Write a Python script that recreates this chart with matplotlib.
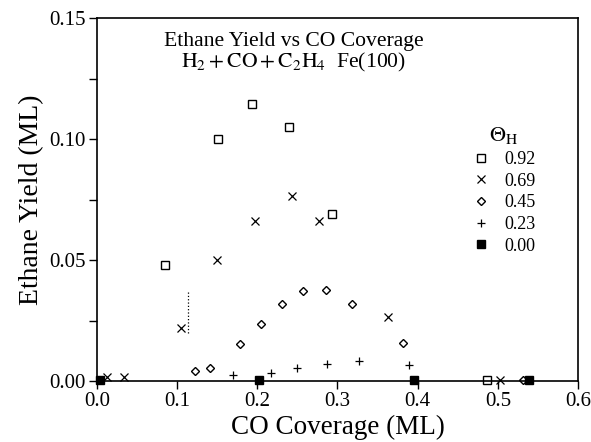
import matplotlib
matplotlib.use("Agg")
import matplotlib.pyplot as plt
from matplotlib.ticker import MultipleLocator

plt.rcParams['font.family'] = ['Liberation Serif', 'DejaVu Serif']
plt.rcParams['mathtext.fontset'] = 'stix'

# Series: theta_H = 0.92 (open squares)
x_092 = [0.085, 0.151, 0.193, 0.240, 0.293, 0.486]
y_092 = [0.048, 0.100, 0.1145, 0.105, 0.069, 0.0005]
# theta_H = 0.69 (crosses)
x_069 = [0.012, 0.034, 0.105, 0.150, 0.197, 0.243, 0.277, 0.363, 0.503]
y_069 = [0.0015, 0.0015, 0.022, 0.050, 0.066, 0.0765, 0.066, 0.0265, 0.0005]
# theta_H = 0.45 (open diamonds)
x_045 = [0.122, 0.141, 0.178, 0.205, 0.231, 0.257, 0.286, 0.318, 0.382, 0.531]
y_045 = [0.004, 0.0054, 0.0153, 0.0235, 0.032, 0.037, 0.0376, 0.032, 0.0157, 0.0003]
# theta_H = 0.23 (plus)
x_023 = [0.170, 0.217, 0.249, 0.287, 0.327, 0.389]
y_023 = [0.0025, 0.0033, 0.0054, 0.007, 0.0083, 0.0066]
# theta_H = 0.00 (filled squares)
x_000 = [0.004, 0.202, 0.395, 0.539]
y_000 = [0.0003, 0.0003, 0.0003, 0.0003]
# dotted vertical segment near x = 0.11
seg_x = [0.1135, 0.1135]
seg_y = [0.020, 0.037]

labels = ["0.92", "0.69", "0.45", "0.23", "0.00"]

fig = plt.figure(figsize=(5.91, 4.42), dpi=100)
ax = fig.add_axes([0.164, 0.138, 0.814, 0.821])

ax.plot(x_092, y_092, ls='none', marker='s', ms=5.5, mfc='white', mec='black', mew=1.0, label=labels[0], clip_on=False)
ax.plot(x_069, y_069, ls='none', marker='x', ms=5.5, color='black', mew=0.9, label=labels[1], clip_on=False)
ax.plot(x_045, y_045, ls='none', marker='D', ms=4.5, mfc='white', mec='black', mew=1.0, label=labels[2], clip_on=False)
ax.plot(x_023, y_023, ls='none', marker='+', ms=6, color='black', mew=0.9, label=labels[3], clip_on=False)
ax.plot(x_000, y_000, ls='none', marker='s', ms=5.5, color='black', label=labels[4], clip_on=False)
ax.plot(seg_x, seg_y, ls=':', color='black', lw=0.9)

ax.set_xlim(0, 0.6)
ax.set_ylim(0, 0.15)
ax.xaxis.set_major_locator(MultipleLocator(0.1))
ax.yaxis.set_major_locator(MultipleLocator(0.05))
ax.yaxis.set_minor_locator(MultipleLocator(0.025))
ax.xaxis.set_major_formatter(matplotlib.ticker.FormatStrFormatter('%.1f'))
ax.yaxis.set_major_formatter(matplotlib.ticker.FormatStrFormatter('%.2f'))
ax.tick_params(axis='both', which='major', direction='out', length=6, width=1, labelsize=15, pad=2)
ax.tick_params(axis='y', which='minor', direction='out', length=6, width=1)
for s in ax.spines.values():
    s.set_linewidth(1.2)

ax.set_xlabel("CO Coverage (ML)", fontsize=19.5, labelpad=3)
ax.set_ylabel("Ethane Yield (ML)", fontsize=20, labelpad=4)

ax.text(0.245, 0.1405, "Ethane Yield vs CO Coverage", fontsize=15.6, ha='center', va='center')
ax.text(0.245, 0.1315, r"$\mathrm{H_2 + CO + C_2H_4}$  Fe(100)", fontsize=15.6, ha='center', va='center')

leg = ax.legend(loc='upper left', bbox_to_anchor=(0.76, 0.73), frameon=False, fontsize=13,
                title=r"$\Theta_\mathrm{H}$", title_fontsize=16, handlelength=1.0,
                handletextpad=0.8, labelspacing=0.26, borderpad=0)

fig.savefig("out.png", dpi=100)
